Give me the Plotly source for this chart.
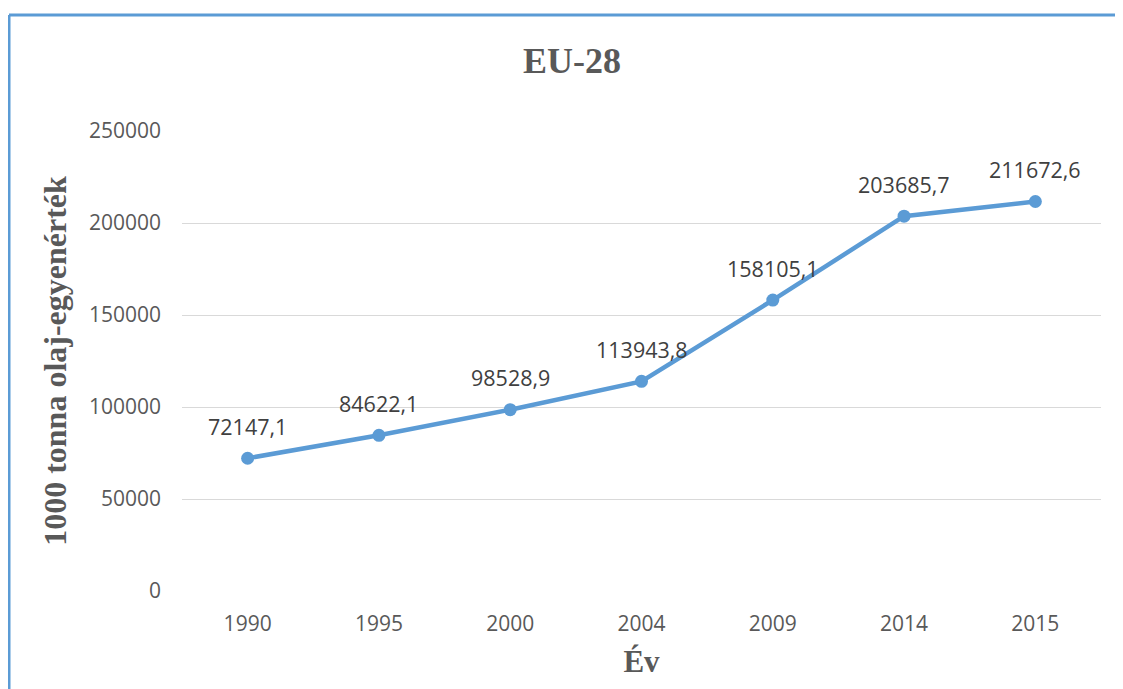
import plotly.graph_objects as go

years = ["1990", "1995", "2000", "2004", "2009", "2014", "2015"]
values = [72147.1, 84622.1, 98528.9, 113943.8, 158105.1, 203685.7, 211672.6]
labels = ["72147,1", "84622,1", "98528,9", "113943,8", "158105,1", "203685,7", "211672,6"]
y_ticks = [0, 50000, 100000, 150000, 200000, 250000]

OFF = 8  # page body margin
W, H = 1123 - OFF, 689 - OFF
L, T = 182 - OFF, 131 - OFF
R = W - (1101 - OFF)
B = H - (591 - OFF)
pw, ph = W - L - R, H - T - B

fig = go.Figure()
fig.add_trace(go.Scatter(
    x=list(range(len(years))), y=values, mode="lines+markers",
    line=dict(color="#5B9BD5", width=4.5),
    marker=dict(color="#5B9BD5", size=13),
    hoverinfo="skip", showlegend=False,
))

for i, (v, lab) in enumerate(zip(values, labels)):
    fig.add_annotation(x=i, y=v, xref="x", yref="y", text=lab, showarrow=False, yshift=32,
                       font=dict(family="Open Sans", size=21.5, color="#404040"))

fig.update_layout(
    width=W, height=H,
    margin=dict(l=L, r=R, t=T, b=B),
    paper_bgcolor="white", plot_bgcolor="white",
    title=dict(text="<b>EU-28</b>", x=(572 - OFF - L) / pw, xref="paper", xanchor="center",
               y=1 - (60 - OFF) / H, yanchor="middle",
               font=dict(family="Liberation Serif, Times New Roman", size=36, color="#595959")),
    xaxis=dict(range=[-0.5, 6.5], tickvals=list(range(len(years))), ticktext=years,
               showgrid=False, showline=False, zeroline=False,
               ticks="", ticklabelstandoff=18,
               tickfont=dict(family="Open Sans", size=21, color="#595959"),
               title=dict(text="<b>Év</b>", standoff=14,
                          font=dict(family="Liberation Serif, Times New Roman", size=31, color="#595959"))),
    yaxis=dict(range=[0, 250000], tickvals=y_ticks, ticktext=[str(t) for t in y_ticks],
               showgrid=True, gridcolor="#D9D9D9", gridwidth=1, zeroline=False, showline=False,
               ticks="", ticklabelstandoff=20,
               tickfont=dict(family="Open Sans", size=21, color="#595959"),
               title=dict(text="<b>1000 tonna olaj-egyenérték</b>", standoff=12,
                          font=dict(family="Liberation Serif, Times New Roman", size=32, color="#595959"))),
)

# chart border (blue), left and top edges visible
x_left = (9 - OFF - L) / pw
y_top = (H - B - (15 - OFF)) / ph
fig.add_shape(type="line", xref="paper", yref="paper", x0=x_left, x1=x_left, y0=y_top, y1=-1,
              line=dict(color="#5B9BD5", width=3))
fig.add_shape(type="line", xref="paper", yref="paper", x0=x_left, x1=2, y0=y_top, y1=y_top,
              line=dict(color="#5B9BD5", width=3))

fig.write_html("out.html")
